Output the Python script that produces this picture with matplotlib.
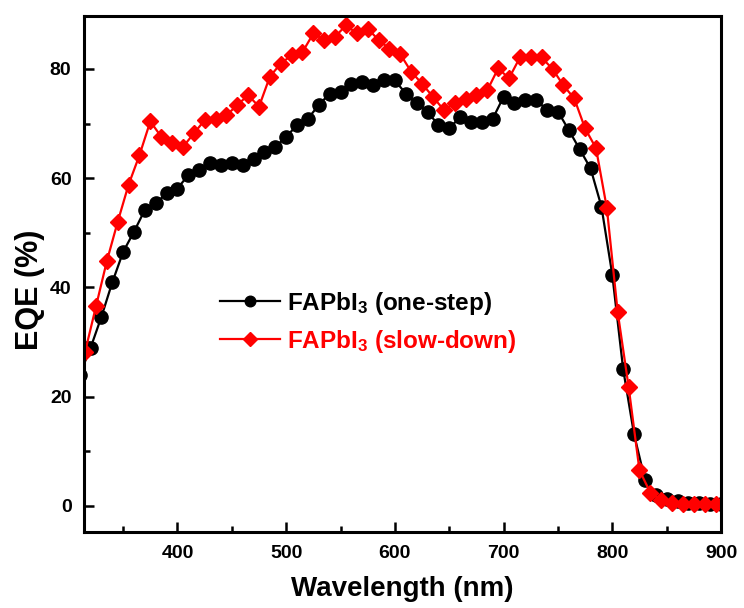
import matplotlib
matplotlib.use("Agg")
import matplotlib.pyplot as plt
from matplotlib.ticker import MultipleLocator

plt.rcParams['font.family'] = ['Liberation Sans', 'DejaVu Sans']
plt.rcParams['font.weight'] = 'bold'
plt.rcParams['mathtext.fontset'] = 'custom'
plt.rcParams['mathtext.rm'] = 'Liberation Sans:bold'
plt.rcParams['mathtext.default'] = 'rm'

# Data
wl_onestep = [310, 320, 330, 340, 350, 360, 370, 380, 390, 400, 410, 420, 430, 440,
              450, 460, 470, 480, 490, 500, 510, 520, 530, 540, 550, 560, 570, 580,
              590, 600, 610, 620, 630, 640, 650, 660, 670, 680, 690, 700, 710, 720,
              730, 740, 750, 760, 770, 780, 790, 800, 810, 820, 830, 840, 850, 860,
              870, 880, 890, 900]
eqe_onestep = [24.0, 28.9, 34.6, 40.9, 46.5, 50.2, 54.2, 55.4, 57.2, 58.1, 60.6, 61.5,
               62.7, 62.4, 62.7, 62.4, 63.6, 64.8, 65.7, 67.6, 69.7, 70.9, 73.4, 75.5,
               75.8, 77.3, 77.6, 77.0, 77.9, 77.9, 75.5, 73.7, 72.2, 69.7, 69.1, 71.2,
               70.3, 70.3, 70.9, 74.9, 73.7, 74.3, 74.3, 72.5, 72.2, 68.8, 65.3, 61.8,
               54.8, 42.3, 25.0, 13.1, 4.8, 2.0, 1.2, 0.8, 0.6, 0.5, 0.4, 0.3]

wl_slowdown = [315, 325, 335, 345, 355, 365, 375, 385, 395, 405, 415, 425, 435, 445,
               455, 465, 475, 485, 495, 505, 515, 525, 535, 545, 555, 565, 575, 585,
               595, 605, 615, 625, 635, 645, 655, 665, 675, 685, 695, 705, 715, 725,
               735, 745, 755, 765, 775, 785, 795, 805, 815, 825, 835, 845, 855, 865,
               875, 885, 895]
eqe_slowdown = [28.2, 36.5, 44.8, 52.0, 58.8, 64.2, 70.4, 67.6, 66.4, 65.7, 68.2, 70.6,
                70.8, 71.5, 73.4, 75.2, 73.1, 78.6, 81.0, 82.5, 83.1, 86.5, 85.3, 85.9,
                88.0, 86.5, 87.4, 85.3, 83.7, 82.7, 79.5, 77.3, 74.9, 72.5, 73.7, 74.5,
                75.2, 76.1, 80.1, 78.3, 82.1, 82.1, 82.1, 80.0, 77.0, 74.6, 69.1, 65.5,
                54.5, 35.4, 21.8, 6.5, 2.4, 1.0, 0.6, 0.4, 0.4, 0.3, 0.3]

labels = ['FAPbI$_3$ (one-step)', 'FAPbI$_3$ (slow-down)']
colors = ['black', '#ff0000']

fig = plt.figure(figsize=(7.44, 6.08), dpi=100)
ax = fig.add_axes([84/744, 1-532/608, (721-84)/744, (532-16)/608])

ax.plot(wl_onestep, eqe_onestep, '-o', color=colors[0], lw=1.6, ms=9.5,
        mec=colors[0], label=labels[0])
ax.plot(wl_slowdown, eqe_slowdown, '-D', color=colors[1], lw=1.6, ms=8.3,
        mec=colors[1], label=labels[1])

ax.set_xlim(314, 900)
ax.set_ylim(-4.8, 89.7)
ax.xaxis.set_major_locator(MultipleLocator(100))
ax.xaxis.set_minor_locator(MultipleLocator(50))
ax.yaxis.set_major_locator(MultipleLocator(20))
ax.yaxis.set_minor_locator(MultipleLocator(10))
ax.tick_params(which='both', direction='in', top=False, right=False, width=1.8)
ax.tick_params(which='major', length=7, labelsize=14, pad=9)
ax.tick_params(which='minor', length=4)
for lab in ax.get_xticklabels() + ax.get_yticklabels():
    lab.set_fontweight('bold')
for sp in ax.spines.values():
    sp.set_linewidth(2.2)

ax.set_xlabel('Wavelength (nm)', fontsize=20, fontweight='bold')
ax.set_ylabel('EQE (%)', fontsize=22, fontweight='bold')
ax.xaxis.set_label_coords(0.5, -0.085)
ax.yaxis.set_label_coords(-0.061, 0.469)

leg = ax.legend(loc='upper left', bbox_to_anchor=((220-84)/637, (532-290)/516),
                frameon=False, fontsize=17.5, handlelength=2.46, handletextpad=0.3,
                labelspacing=0.45, borderpad=0, borderaxespad=0, markerscale=0.8)
for txt, c in zip(leg.get_texts(), colors):
    txt.set_color(c)
    txt.set_fontweight('bold')

fig.savefig('out.png', dpi=100)
